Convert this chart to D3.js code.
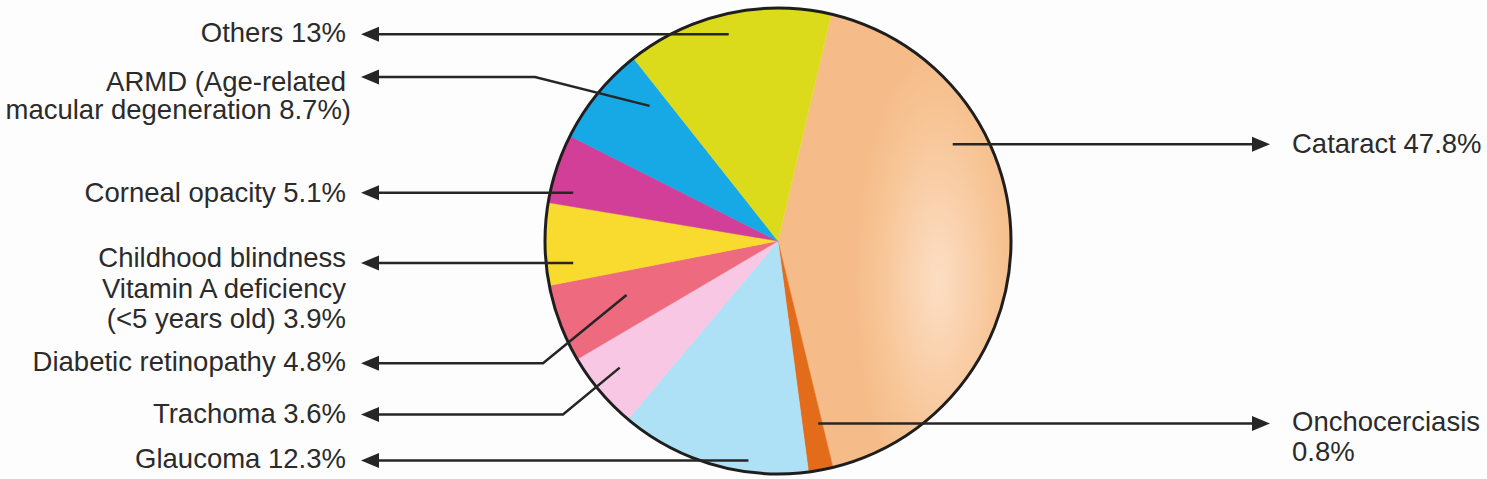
<!DOCTYPE html>
<html>
<head>
<meta charset="utf-8">
<script src="https://cdn.jsdelivr.net/npm/d3@7"></script>
<style>
  html, body { margin: 0; padding: 0; background: #fdfdfd; }
  svg { display: block; }
</style>
</head>
<body>
<svg id="chart" width="1487" height="479"></svg>
<script>
// ---- data (clockwise order, starting at the top of the pie) ----
const categories = ["Cataract", "Onchocerciasis", "Glaucoma", "Trachoma",
  "Diabetic retinopathy", "Childhood blindness", "Corneal opacity", "ARMD", "Others"];
// percentages printed in the labels
const statedPercent = [47.8, 0.8, 12.3, 3.6, 4.8, 3.9, 5.1, 8.7, 13];
// slice sizes as drawn in the reference picture (percent of the full circle)
const drawnShare = [42.5, 1.7, 13.2, 5.4, 5.4, 5.7, 4.8, 6.9, 14.3];
const sliceColors = ["url(#cataractGrad)", "#e36c1b", "#afe1f6", "#f7c7e4",
  "#ee6b7f", "#f9db2f", "#d13f98", "#17a8e6", "#dcdb1b"];
// label text lines
const labelLines = [
  ["Cataract 47.8%"],
  ["Onchocerciasis", "0.8%"],
  ["Glaucoma 12.3%"],
  ["Trachoma 3.6%"],
  ["Diabetic retinopathy 4.8%"],
  ["Childhood blindness", "Vitamin A deficiency", "(<5 years old) 3.9%"],
  ["Corneal opacity 5.1%"],
  ["ARMD (Age-related", "macular degeneration 8.7%)"],
  ["Others 13%"]
];

// ---- layout ----
const W = 1487, H = 479;
const cx = 778, cy = 241, R = 233;
const startDeg = 13.2;
const leftTextX = 346, rightTextX = 1292;
const leftTipX = 361, rightTipX = 1270;
// annotation layout per category: arrow y, side, inner point (t = fraction along slice, rf = radius fraction),
// optional elbow x, baseline offsets of the text lines relative to arrow y
const annot = [
  {y: 144.3, side: "R", rf: 0.857, base: [9]},
  {y: 423.5, side: "R", rf: 0.802, base: [7, 37]},
  {y: 460.6, side: "L", rf: 0.951, base: [7.7]},
  {y: 414.5, side: "L", rf: 0.87, t: 0.58, elbow: 563, base: [8]},
  {y: 363.2, side: "L", rf: 0.69, t: 0.56, elbow: 543, base: [7.5]},
  {y: 263.0, side: "L", rf: 0.884, base: [3.7, 35.3, 65.3]},
  {y: 192.8, side: "L", rf: 0.903, base: [8.9]},
  {y: 77.0, side: "L", rf: 0.80, t: 0.79, elbow: 535, base: [13.7, 42], dx: [0, 5]},
  {y: 34.3, side: "L", rf: 0.912, base: [7.4]}
];

const svg = d3.select("#chart");
svg.append("rect").attr("width", W).attr("height", H).attr("fill", "#fdfdfd");

// highlight of the cataract slice, in pie-centred coordinates
const hl = {x: 160, y: 40};
const defs = svg.append("defs");
const grad = defs.append("radialGradient")
  .attr("id", "cataractGrad")
  .attr("gradientUnits", "userSpaceOnUse")
  .attr("cx", hl.x).attr("cy", hl.y).attr("r", 240)
  .attr("gradientTransform", `translate(${hl.x},${hl.y}) scale(0.36,1) translate(${-hl.x},${-hl.y})`);
grad.append("stop").attr("offset", 0).attr("stop-color", "#fcdec4");
grad.append("stop").attr("offset", 0.3).attr("stop-color", "#fad3b0");
grad.append("stop").attr("offset", 0.7).attr("stop-color", "#f7c494");
grad.append("stop").attr("offset", 1).attr("stop-color", "#f5bb88");

const data = categories.map((c, i) => ({cat: c, share: drawnShare[i], color: sliceColors[i], idx: i}));

const pie = d3.pie()
  .sort(null)
  .value(d => d.share)
  .startAngle(startDeg * Math.PI / 180)
  .endAngle(startDeg * Math.PI / 180 + 2 * Math.PI);
const arcs = pie(data);
const arc = d3.arc().innerRadius(0).outerRadius(R);

const g = svg.append("g").attr("transform", `translate(${cx},${cy})`);
g.selectAll("path.slice")
  .data(arcs)
  .join("path")
  .attr("class", "slice")
  .attr("d", arc)
  .attr("fill", d => d.data.color)
  .attr("stroke", d => d.data.idx === 0 ? "none" : d.data.color)
  .attr("stroke-width", 0.5);

g.append("circle").attr("r", R).attr("fill", "none")
  .attr("stroke", "#1e1e1e").attr("stroke-width", 3);

// ---- leaders, arrows, labels ----
const ink = "#262626";
const lineGen = d3.line();
const lead = svg.append("g");
const text = svg.append("g")
  .attr("font-family", "'Liberation Sans', Arial, Helvetica, sans-serif")
  .attr("font-size", 27.5)
  .attr("fill", "#2b2b2b");

arcs.forEach((a, i) => {
  const an = annot[i];
  const left = an.side === "L";
  const tipX = left ? leftTipX : rightTipX;
  const arrowLen = 18, arrowHalf = 7.5;
  const baseX = left ? tipX + arrowLen : tipX - arrowLen;
  let pts;
  if (an.elbow !== undefined) {
    const ang = a.startAngle + an.t * (a.endAngle - a.startAngle);
    const px = cx + Math.sin(ang) * an.rf * R;
    const py = cy - Math.cos(ang) * an.rf * R;
    pts = [[px, py], [an.elbow, an.y], [baseX, an.y]];
  } else {
    const dy = an.y - cy;
    const rr = an.rf * R;
    const dx = Math.sqrt(Math.max(0, rr * rr - dy * dy));
    const px = left ? cx - dx : cx + dx;
    pts = [[px, an.y], [baseX, an.y]];
  }
  lead.append("path")
    .attr("d", lineGen(pts))
    .attr("fill", "none")
    .attr("stroke", ink)
    .attr("stroke-width", 2.5)
    .attr("stroke-linejoin", "miter");
  lead.append("path")
    .attr("d", lineGen([[tipX, an.y], [baseX, an.y - arrowHalf], [baseX, an.y + arrowHalf]]) + "Z")
    .attr("fill", ink);

  const t = text.append("text")
    .attr("text-anchor", left ? "end" : "start");
  labelLines[i].forEach((ln, k) => {
    t.append("tspan")
      .attr("x", (left ? leftTextX : rightTextX) + (an.dx ? an.dx[k] : 0))
      .attr("y", an.y + an.base[k])
      .text(ln);
  });
});
</script>
</body>
</html>
